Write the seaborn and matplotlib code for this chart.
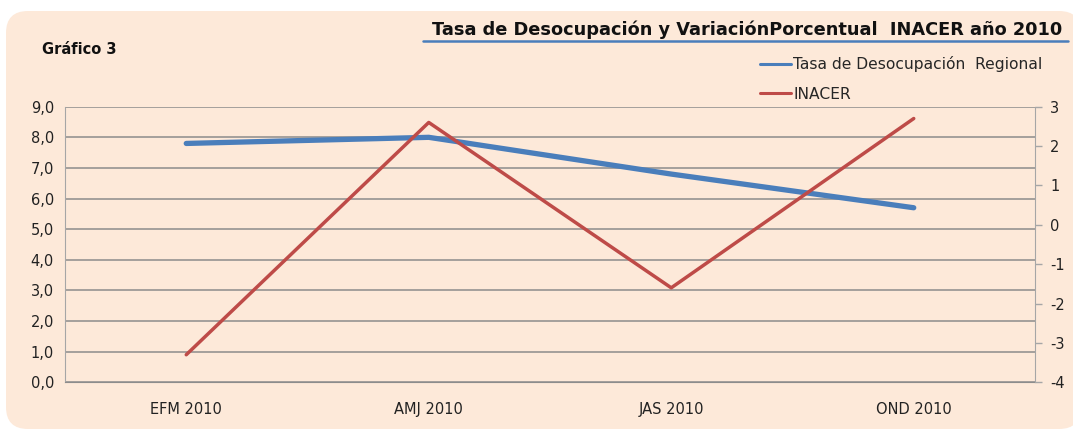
import numpy as np
import pandas as pd
import seaborn as sns
import matplotlib.pyplot as plt
from matplotlib.patches import FancyBboxPatch
from matplotlib.transforms import IdentityTransform
from matplotlib.lines import Line2D

# data
periodos = ["EFM 2010", "AMJ 2010", "JAS 2010", "OND 2010"]
tasa_desocupacion = [7.8, 8.0, 6.8, 5.7]
inacer = [-3.3, 2.6, -1.6, 2.7]

bgcolor = "#FDE9D9"
gridcolor = "#8C8C8C"
blue = "#4A7EBB"
red = "#BE4B48"

df = pd.DataFrame({"periodo": periodos, "tasa": tasa_desocupacion, "inacer": inacer})

sns.set_style("white")
plt.rcParams["font.family"] = ["DejaVu Sans"]
plt.rcParams["axes.unicode_minus"] = False

fig = plt.figure(figsize=(10.73, 4.32), dpi=100)
fig.patch.set_facecolor("white")

# rounded peach background
box = FancyBboxPatch((6, 3), 1075, 418, boxstyle="round,pad=0,rounding_size=22",
                     transform=IdentityTransform(), facecolor=bgcolor, edgecolor="none", zorder=-10)
fig.patches.append(box)

ax = fig.add_axes([65 / 1073, 1 - 382.3 / 432, 970 / 1073, 275.6 / 432])
ax.set_facecolor("none")
ax2 = ax.twinx()

sns.lineplot(data=df, x="periodo", y="tasa", ax=ax, color=blue, linewidth=3.8,
             solid_capstyle="round", sort=False, zorder=3)
sns.lineplot(data=df, x="periodo", y="inacer", ax=ax2, color=red, linewidth=2.5,
             solid_capstyle="round", sort=False, zorder=3)

ax.set_xlim(-0.5, 3.5)
ax.set_ylim(0, 9)
ax.set_yticks(np.arange(0, 10, 1))
ax.set_yticklabels([f"{v:.1f}".replace(".", ",") for v in range(10)])
ax2.set_ylim(-4, 3)
ax2.set_yticks(np.arange(-4, 4, 1))

ax.yaxis.grid(True, color=gridcolor, linewidth=1.1)
ax.set_axisbelow(True)
ax.set_xlabel("")
ax.set_ylabel("")
ax2.set_ylabel("")

for a in (ax, ax2):
    for s in a.spines.values():
        s.set_visible(False)
ax.spines["left"].set_visible(True)
ax.spines["left"].set_color("#A6A6A6")
ax.spines["bottom"].set_visible(True)
ax.spines["bottom"].set_color(gridcolor)
ax2.spines["right"].set_visible(True)
ax2.spines["right"].set_color("#A6A6A6")

ax.tick_params(axis="y", length=0, labelsize=10.5, pad=8, colors="#222222")
ax.tick_params(axis="x", length=0, labelsize=10.5, pad=14, colors="#222222")
ax2.tick_params(axis="y", length=5, width=1, color="#A6A6A6", labelcolor="#222222",
                labelsize=10.5, pad=6)

# titles
fig.text(1062 / 1073, 1 - 30 / 432, "Tasa de Desocupación y VariaciónPorcentual  INACER año 2010",
         ha="right", va="center", fontsize=12.8, fontweight="bold", color="#111111")
fig.add_artist(Line2D([423 / 1073, 1068 / 1073], [1 - 41 / 432, 1 - 41 / 432],
                      transform=fig.transFigure, color=blue, linewidth=1.8))
fig.text(42 / 1073, 1 - 50 / 432, "Gráfico 3", ha="left", va="center",
         fontsize=10.5, fontweight="bold", color="#111111")

# legend
handles = [Line2D([], [], color=blue, linewidth=2.2), Line2D([], [], color=red, linewidth=2.2)]
fig.legend(handles, ["Tasa de Desocupación  Regional", "INACER"], loc="upper left",
           bbox_to_anchor=(760 / 1073, 1 - 56 / 432), frameon=False, fontsize=11.2,
           handlelength=2.0, handletextpad=0.15, labelspacing=0.95, borderpad=0,
           borderaxespad=0)

fig.savefig("out.png", dpi=100, facecolor="white")
